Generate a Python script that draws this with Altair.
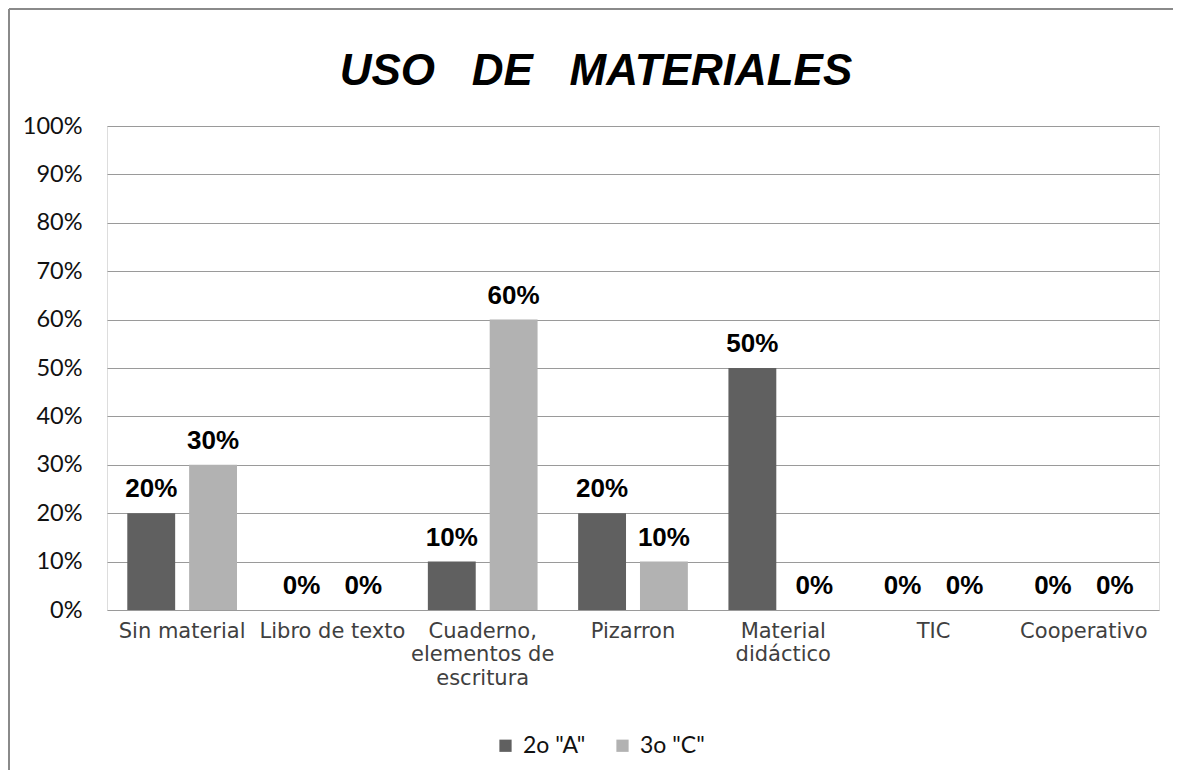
import altair as alt
import pandas as pd

categories = ["Sin material", "Libro de texto", "Cuaderno,|elementos de|escritura",
              "Pizarron", "Material|didáctico", "TIC", "Cooperativo"]
series = ['2o "A"', '3o "C"']
values_2A = [0.20, 0.00, 0.10, 0.20, 0.50, 0.00, 0.00]
values_3C = [0.30, 0.00, 0.60, 0.10, 0.00, 0.00, 0.00]
colors = ["#606060", "#b2b2b2"]
nb = "\u00a0"
title_text = "USO" + nb * 3 + "DE" + nb * 3 + "MATERIALES"

rows = []
for i, c in enumerate(categories):
    rows.append({"cat": c, "serie": series[0], "v": values_2A[i]})
    rows.append({"cat": c, "serie": series[1], "v": values_3C[i]})
df = pd.DataFrame(rows)

W, H = 1052, 484
PL, PT, PR, PB = 99, 118, 14, 160

x = alt.X("cat:N", sort=categories, title=None,
          scale=alt.Scale(paddingInner=0, paddingOuter=0),
          axis=alt.Axis(labelAngle=0, labelExpr="split(datum.label, '|')",
                        labelFont="DejaVu Sans", labelFontSize=21, labelColor="#404040",
                        labelLineHeight=23.5, labelPadding=10, ticks=False, domain=False,
                        labelBaseline="top"))
xo = alt.XOffset("serie:N", sort=series,
                 scale=alt.Scale(paddingInner=0.2258, paddingOuter=0.328))
y = alt.Y("v:Q", title=None,
          scale=alt.Scale(domain=[0, 1]),
          axis=alt.Axis(format=".0%", values=[i / 10 for i in range(11)],
                        labelFont="Lato", labelFontSize=23.5, labelColor="#111111",
                        labelPadding=25, ticks=False, domain=False,
                        grid=True, gridColor="#9a9a9a", gridWidth=1.2))

bars = alt.Chart(df).mark_bar(strokeWidth=0).encode(
    x=x, xOffset=xo, y=y,
    color=alt.Color("serie:N", sort=series, title=None,
                    scale=alt.Scale(domain=series, range=colors),
                    legend=alt.Legend(orient="none", legendX=387, legendY=608,
                                      direction="horizontal", symbolType="square",
                                      symbolSize=150, symbolStrokeWidth=0,
                                      labelFont="Lato", labelFontSize=23,
                                      labelColor="#111111", labelOffset=6,
                                      columnPadding=25))
)

labels = alt.Chart(df).mark_text(font="Liberation Sans", fontWeight="bold",
                                 fontSize=26, dy=-16, baseline="alphabetic",
                                 color="#000000").encode(
    x=alt.X("cat:N", sort=categories), xOffset=alt.XOffset("serie:N", sort=series),
    y="v:Q", text=alt.Text("v:Q", format=".0%")
)

one = pd.DataFrame({"a": [0]})
border_left = alt.Chart(one).mark_rule(color="#8a8a8a", strokeWidth=2, clip=False).encode(
    x=alt.value(-PL + 1), y=alt.value(-PT + 1), y2=alt.value(H + PB))
border_top = alt.Chart(one).mark_rule(color="#8a8a8a", strokeWidth=2, clip=False).encode(
    x=alt.value(-PL + 1), x2=alt.value(W + PR), y=alt.value(-PT + 1))

title = alt.Chart(pd.DataFrame({"t": [title_text]})).mark_text(
    font="Liberation Sans", fontSize=44, fontWeight="bold", fontStyle="italic",
    color="#000000", align="center", baseline="middle"
).encode(x=alt.value(489), y=alt.value(-54), text="t:N")

chart = alt.layer(border_left, border_top, bars, labels, title).properties(
    width=W, height=H,
    autosize=alt.AutoSizeParams(type="none"),
    padding={"left": PL, "top": PT, "right": PR, "bottom": PB}
).configure_view(stroke=None).configure(background="white")

chart.save("out.html", embed_options={"renderer": "svg", "actions": False})
